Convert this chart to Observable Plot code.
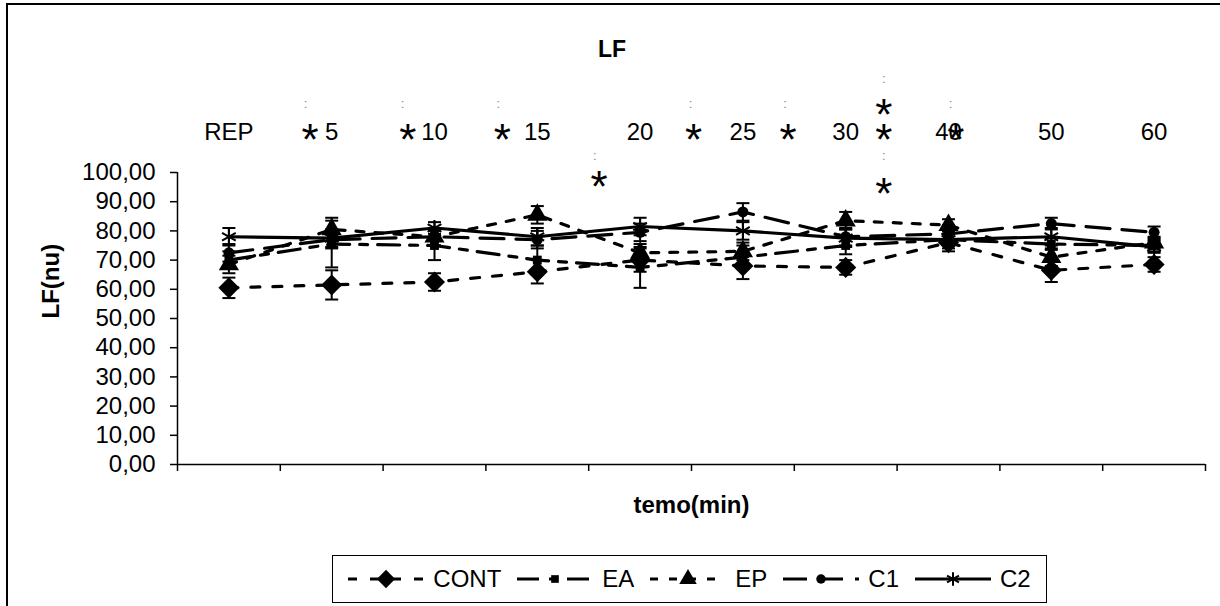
<!DOCTYPE html>
<html>
<head>
<meta charset="utf-8">
<script src="https://cdn.jsdelivr.net/npm/d3@7"></script>
<script src="https://cdn.jsdelivr.net/npm/@observablehq/plot@0.6"></script>
<style>
  html, body { margin: 0; padding: 0; background: #fff; }
  body { width: 1220px; height: 606px; overflow: hidden; position: relative; font-family: Arial, "Liberation Sans", sans-serif; }
  #frame { position: absolute; left: 6px; top: 3px; width: 1400px; height: 800px; border: 2px solid #000; pointer-events: none; }
  #title { position: absolute; left: 0; width: 1224px; top: 34px; text-align: center; font-weight: bold; font-size: 23px; line-height: 30px; }
  #chart { position: absolute; left: 0; top: 0; }
  #legend { position: absolute; left: 332px; top: 555px; width: 713px; height: 46px; border: 1.5px solid #000; display: flex; align-items: center; justify-content: center; gap: 16px; font-size: 24px; background: #fff; }
  .item { display: flex; align-items: center; gap: 9px; }
</style>
</head>
<body>
<div id="chart"></div>
<div id="title">LF</div>
<div id="legend"></div>
<div id="frame"></div>
<script>
// ---- data ----
const categories = ["REP", "5", "10", "15", "20", "25", "30", "40", "50", "60"];
const seriesNames = ["CONT", "EA", "EP", "C1", "C2"];

const CONT = [60.5, 61.5, 62.5, 66.0, 70.0, 68.0, 67.5, 76.0, 66.5, 68.5];
const EA   = [70.0, 75.5, 75.0, 70.0, 67.5, 71.0, 75.0, 77.0, 75.5, 75.0];
const EP   = [68.5, 80.5, 78.0, 85.5, 72.5, 73.0, 83.5, 82.0, 71.0, 76.0];
const C1   = [72.5, 77.0, 78.0, 77.0, 79.5, 86.5, 78.0, 79.0, 82.5, 79.5];
const C2   = [78.0, 77.5, 81.0, 78.0, 81.5, 80.0, 77.5, 77.0, 78.0, 74.5];

const CONT_err = [3.5, 5.0, 3.0, 4.0, 4.0, 4.5, 2.5, 3.0, 4.0, 2.5];
const EA_err   = [3.0, 8.0, 5.0, 5.0, 7.0, 4.0, 3.0, 3.0, 2.0, 2.0];
const EP_err   = [3.0, 4.0, 3.0, 3.0, 3.0, 3.0, 3.0, 2.0, 3.0, 2.0];
const C1_err   = [3.0, 3.0, 3.0, 3.0, 3.0, 3.0, 3.0, 3.0, 2.0, 2.0];
const C2_err   = [3.0, 3.0, 2.0, 3.0, 3.0, 3.0, 3.0, 2.0, 3.0, 2.0];

const yTicks = [0, 10, 20, 30, 40, 50, 60, 70, 80, 90, 100];

// significance markers: position in category-index units, level in LF(nu) units
const sigStarPos   = [0.79, 1.74, 2.66, 3.60, 4.52, 5.44, 6.37, 6.37, 6.37, 7.07];
const sigStarLevel = [113.7, 113.7, 113.7, 97.9, 114.0, 114.0, 122.3, 114.0, 95.5, 114.0];
const sigDotPos    = [0.745, 1.69, 2.62, 3.56, 4.49, 5.41, 6.37, 6.37, 7.02];
const sigDotLevel  = [123.6, 123.6, 123.6, 105.8, 123.6, 123.6, 132.2, 105.8, 123.6];
const labelLevel = 113.7;

// ---- styles (kept apart from data) ----
const FONT = 24;
const STAR = 44;
const style = {
  CONT: {symbol: "diamond2", r: 9.5, dash: "9,13"},
  EA:   {symbol: "square",   r: 5,   dash: "22,10,8,10"},
  EP:   {symbol: "triangle", r: 7.5, dash: "8,11"},
  C1:   {symbol: "circle",   r: 5.5, dash: "24,12"},
  C2:   {symbol: "asterisk", r: 7.5, dash: null}
};
const values = {CONT, EA, EP, C1, C2};
const errs = {CONT: CONT_err, EA: EA_err, EP: EP_err, C1: C1_err, C2: C2_err};

const capSymbol = {draw(ctx) { ctx.moveTo(-6.5, 0); ctx.lineTo(6.5, 0); }};

const rows = seriesNames.flatMap(s => values[s].map((v, i) => ({series: s, i, value: v, err: errs[s][i]})));

const fmt = d => d3.format(".2f")(d).replace(".", ",");

const marks = [];
// axes
marks.push(Plot.axisY({ticks: yTicks, tickFormat: fmt, tickSize: 7, tickPadding: 15, label: null, fontSize: FONT, strokeWidth: 1.5}));
marks.push(Plot.axisX({ticks: d3.range(-0.5, 10, 1), tickFormat: () => "", tickSize: 7, label: null, strokeWidth: 1.5}));
marks.push(Plot.ruleY([0], {stroke: "#000", strokeWidth: 1.5}));
marks.push(Plot.ruleX([-0.5], {stroke: "#000", strokeWidth: 1.5}));

for (const s of seriesNames) {
  const data = rows.filter(d => d.series === s);
  const st = style[s];
  marks.push(Plot.ruleX(data, {x: "i", y1: d => d.value - d.err, y2: d => d.value + d.err, stroke: "#000", strokeWidth: 2}));
  marks.push(Plot.dot(data.flatMap(d => [{i: d.i, y: d.value - d.err}, {i: d.i, y: d.value + d.err}]),
    {x: "i", y: "y", symbol: capSymbol, r: 4, stroke: "#000", fill: "none", strokeWidth: 2}));
  marks.push(Plot.line(data, {x: "i", y: "value", stroke: "#000", strokeWidth: 3.2, strokeDasharray: st.dash}));
  if (st.symbol === "asterisk") {
    marks.push(Plot.dot(data, {x: "i", y: "value", symbol: st.symbol, r: st.r, stroke: "#000", strokeWidth: 2}));
  } else {
    marks.push(Plot.dot(data, {x: "i", y: "value", symbol: st.symbol, r: st.r, fill: "#000", stroke: "none"}));
  }
}

// category labels above the plot
marks.push(Plot.text(categories.map((c, i) => ({i, c})), {x: "i", y: () => labelLevel, text: "c", fontSize: FONT}));
// significance stars and dotted ticks
marks.push(Plot.text(sigStarPos.map((p, k) => ({p, l: sigStarLevel[k]})), {x: "p", y: "l", text: () => "*", fontSize: STAR, dy: STAR * 0.2}));
marks.push(Plot.text(sigDotPos.map((p, k) => ({p, l: sigDotLevel[k]})), {x: "p", y: "l", text: () => ":", fontSize: 13, fill: "#888"}));

// axis titles
marks.push(Plot.text(["LF(nu)"], {frameAnchor: "left", dx: -126, rotate: -90, text: d => d, fontWeight: "bold", fontSize: FONT}));
marks.push(Plot.text(["temo(min)"], {frameAnchor: "bottom", dy: 48, text: d => d, fontWeight: "bold", fontSize: FONT}));

const chart = Plot.plot({
  width: 1220,
  height: 606,
  marginLeft: 177,
  marginRight: 15,
  marginTop: 172,
  marginBottom: 142,
  style: {fontFamily: "Arial, 'Liberation Sans', sans-serif", fontSize: FONT + "px", color: "#000", background: "transparent", overflow: "visible"},
  x: {domain: [-0.5, 9.5], axis: null},
  y: {domain: [0, 100], axis: null},
  marks
});
document.getElementById("chart").appendChild(chart);

// ---- legend ----
const legend = document.getElementById("legend");
for (const s of seriesNames) {
  const st = style[s];
  const item = document.createElement("div");
  item.className = "item";
  const w = 76, h = 26;
  const svg = d3.create("svg").attr("width", w).attr("height", h);
  svg.append("line").attr("x1", 0).attr("x2", w).attr("y1", h / 2).attr("y2", h / 2)
    .attr("stroke", "#000").attr("stroke-width", 3.2).attr("stroke-dasharray", st.dash);
  const symType = {diamond2: d3.symbolDiamond2, square: d3.symbolSquare, triangle: d3.symbolTriangle, circle: d3.symbolCircle, asterisk: d3.symbolAsterisk}[st.symbol];
  const size = Math.PI * st.r * st.r * 0.75;
  const path = svg.append("path").attr("d", d3.symbol(symType, size)()).attr("transform", `translate(${w / 2},${h / 2})`);
  if (st.symbol === "asterisk") path.attr("fill", "none").attr("stroke", "#000").attr("stroke-width", 2);
  else path.attr("fill", "#000");
  item.appendChild(svg.node());
  const lab = document.createElement("span");
  lab.textContent = s;
  item.appendChild(lab);
  legend.appendChild(item);
}
</script>
</body>
</html>
